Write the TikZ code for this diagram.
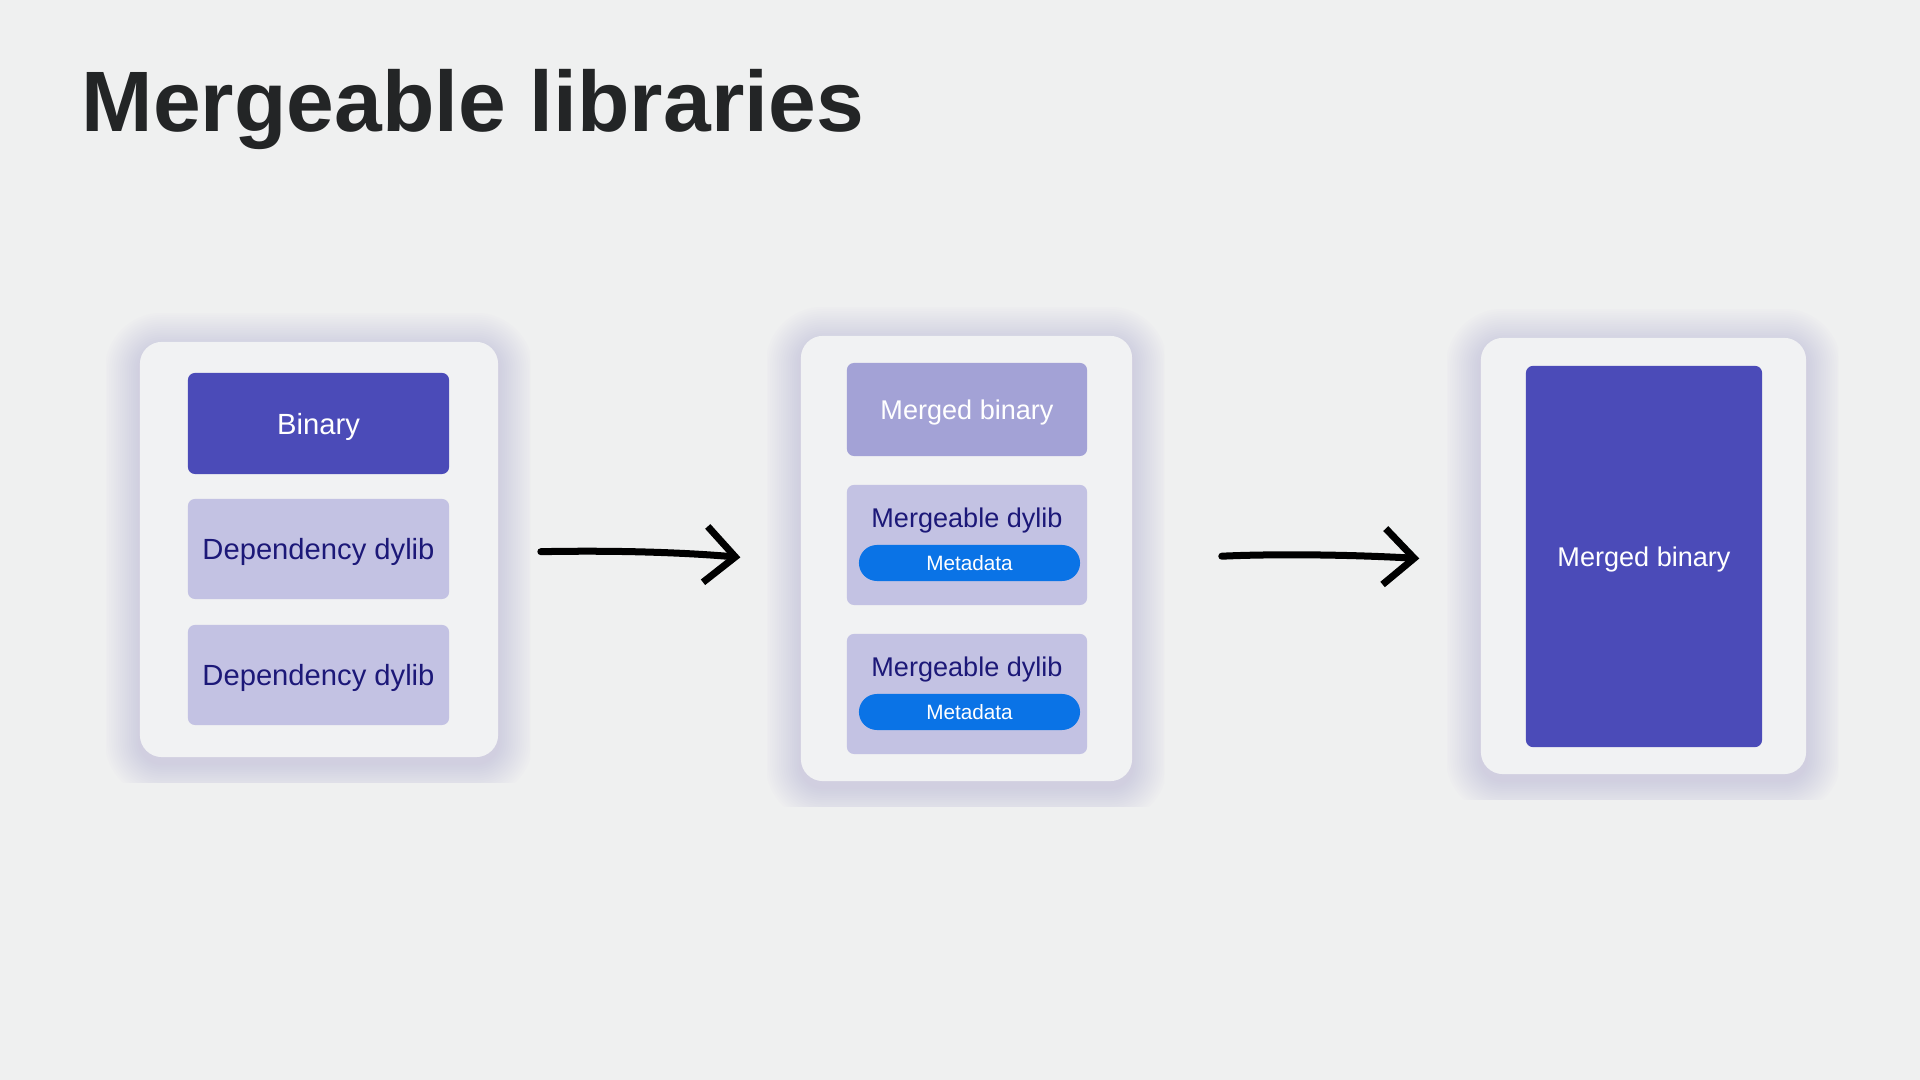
\documentclass[tikz,border=0pt]{standalone}
\usepackage{fontspec}
\setmainfont{Liberation Sans}
\usetikzlibrary{arrows.meta}

\definecolor{slidebg}{HTML}{EFF0F0}
\definecolor{cardbg}{HTML}{F1F2F3}
\definecolor{glow}{HTML}{B4B0DE}
\definecolor{binblue}{HTML}{4B4BB8}
\definecolor{dyliblight}{HTML}{C3C2E3}
\definecolor{mergedmid}{HTML}{A3A2D6}
\definecolor{metablue}{HTML}{0A73E6}
\definecolor{navy}{HTML}{1C1878}
\definecolor{titlegray}{HTML}{232526}

\tikzset{
  card/.style={fill=cardbg, rounded corners=2.2mm, inner sep=0pt},
  libbox/.style={rounded corners=0.7mm, inner sep=0pt, text depth=0pt, font=\fontsize{7.7}{9}\selectfont},
  binary/.style={libbox, fill=binblue, text=white},
  dylib/.style={libbox, fill=dyliblight, text=navy},
  merged/.style={libbox, fill=mergedmid, text=white},
  big/.style={font=\fontsize{8.3}{10}\selectfont},
  meta/.style={fill=metablue, text=white, rounded corners=1.8mm, inner sep=0pt,
    minimum width=22.1mm, minimum height=3.6mm, font=\fontsize{5.9}{7}\selectfont},
  handarrow/.style={line width=0.7mm, line cap=round, -{Straight Barb[length=3mm,width=5.6mm]}}
}

\begin{document}
\begin{tikzpicture}[x=0.01cm, y=-0.01cm]
  \fill[slidebg] (0,0) rectangle (1920,1080);
  \useasboundingbox (0,0) rectangle (1920,1080);

  % glow behind the cards
  \foreach \cx/\cy/\w/\h in {319/549.5/358/415, 966.5/558.5/331/445, 1643.5/556/325/436} {
    \begin{scope}
      \clip (\cx-\w/2-34,\cy-\h/2-28) rectangle (\cx+\w/2+32,\cy+\h/2+26);
      \foreach \g in {1,...,16} {
        \pgfmathsetmacro{\s}{\g*2.2}
        \pgfmathsetmacro{\rr}{2.2+\g*0.22}
        \fill[glow, opacity=0.032, rounded corners=\rr mm]
          (\cx-\w/2-\s,\cy-\h/2-\s+6) rectangle (\cx+\w/2+\s,\cy+\h/2+\s+6);
      }
    \end{scope}
  }

  \node[anchor=base west, inner sep=0pt, text=titlegray,
    font=\fontsize{24.4}{30}\selectfont\bfseries] (title) at (81,132) {Mergeable libraries};

  % left card
  \node[card, minimum width=35.8mm, minimum height=41.5mm] (lcard) at (319,549.5) {};
  \node[binary, big, minimum width=26.1mm, minimum height=10.1mm] (bin) at (318.5,423.5) {Binary};
  \node[dylib, big, minimum width=26.1mm, minimum height=10mm] (dep1) at (318.5,549) {Dependency dylib};
  \node[dylib, big, minimum width=26.1mm, minimum height=10mm] (dep2) at (318.5,675) {Dependency dylib};

  % middle card
  \node[card, minimum width=33.1mm, minimum height=44.5mm] (mcard) at (966.5,558.5) {};
  \node[merged, minimum width=24mm, minimum height=9.3mm] (mbin) at (967,409.5) {Merged binary};
  \foreach \n/\y in {1/545, 2/694} {
    \node[dylib, minimum width=24mm, minimum height=12mm] (mdy\n) at (967,\y) {};
    \node[libbox, text=navy] (mlabel\n) at (967,\y-27) {Mergeable dylib};
    \node[meta] (meta\n) at (969.5,\y+18) {Metadata};
  }

  % right card
  \node[card, minimum width=32.5mm, minimum height=43.6mm] (rcard) at (1643.5,556) {};
  \node[binary, minimum width=23.6mm, minimum height=38.1mm] (final) at (1644,556.5) {Merged binary};

  \draw[handarrow, shorten <=4.2mm, shorten >=6mm] ([yshift=-0.3mm]lcard.east) to[bend left=3] ([yshift=-0.4mm]mcard.west);
  \draw[handarrow, shorten <=8.9mm, shorten >=6.1mm] ([yshift=-0.2mm]mcard.east) to[bend left=3] ([yshift=-0.6mm]rcard.west);
\end{tikzpicture}
\end{document}
